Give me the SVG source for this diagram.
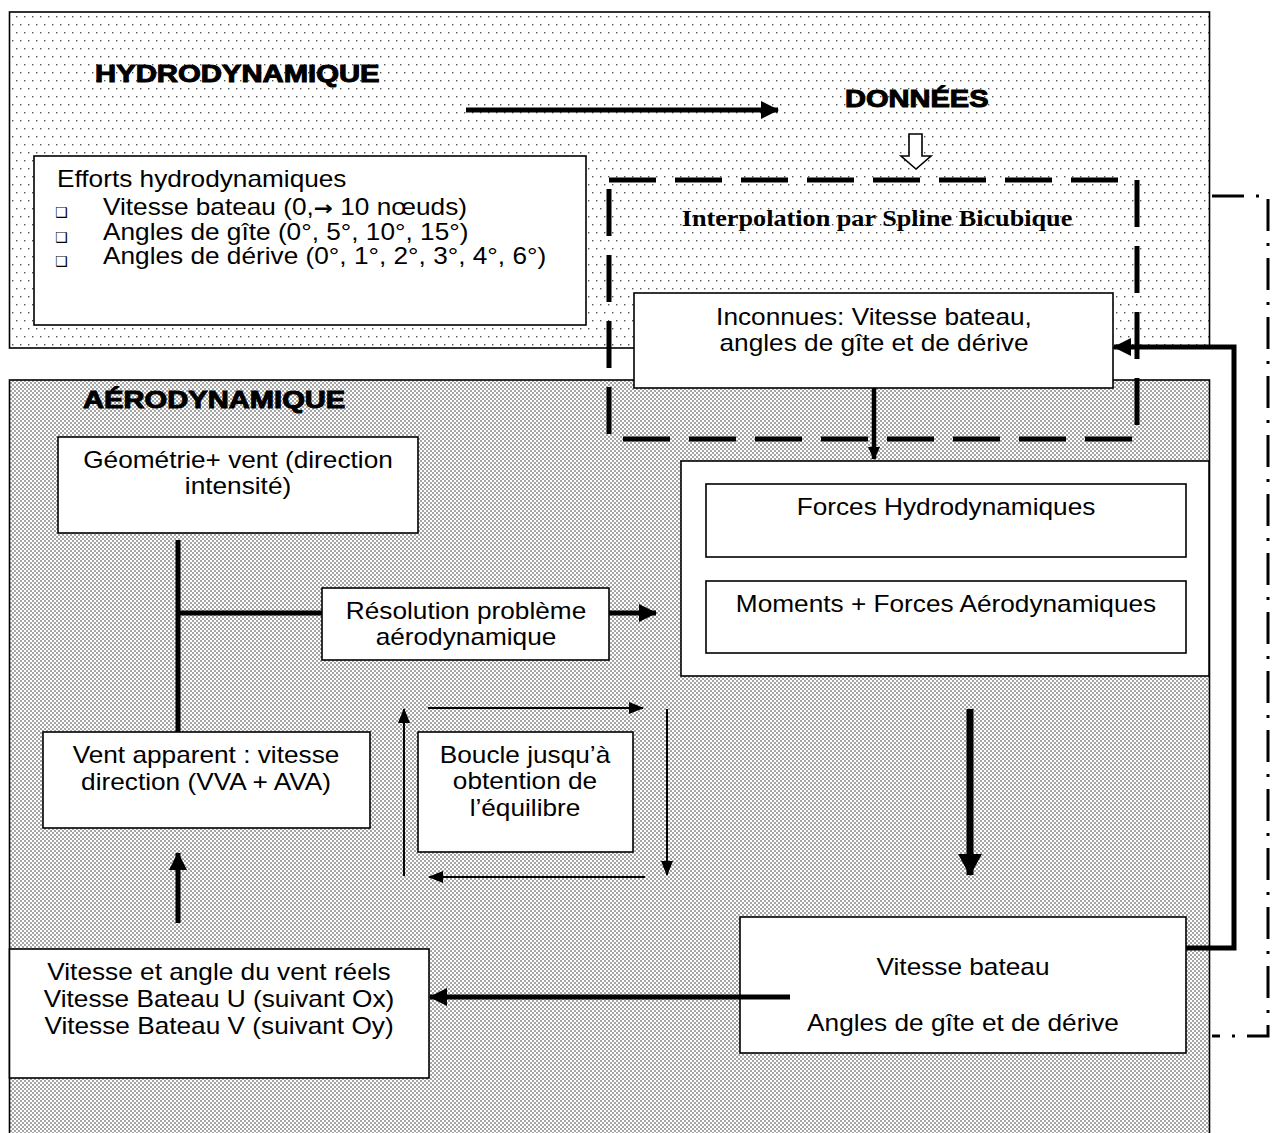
<svg xmlns="http://www.w3.org/2000/svg" width="1272" height="1133" viewBox="0 0 1272 1133">
<style>
.t{font-family:"Liberation Sans",Arial,sans-serif;font-size:23px;fill:#000}
.h{font-family:"Liberation Sans",Arial,sans-serif;font-size:24px;font-weight:bold;fill:#000;stroke:#000;stroke-width:1}
.s{font-family:"Liberation Serif","Times New Roman",serif;font-size:23px;font-weight:bold;fill:#000}
.b{font-family:"DejaVu Sans",sans-serif;font-size:14px;fill:#000}
.box{fill:#fff;stroke:#000;stroke-width:1.6}
.frame{stroke:#000;stroke-width:1.6}
.thick{fill:none;stroke:#000;stroke-width:5}
.thin{fill:none;stroke:#000;stroke-width:2}
</style>
<defs>
<pattern id="pLight" width="8" height="16" patternUnits="userSpaceOnUse">
<rect width="8" height="16" fill="#fff"/>
<rect x="0" y="0" width="1.4" height="1.4" fill="#555"/>
<rect x="4" y="8" width="1.4" height="1.4" fill="#555"/>
</pattern>
<pattern id="pDense" width="4" height="4" patternUnits="userSpaceOnUse">
<rect width="4" height="4" fill="#fff"/>
<circle cx="1" cy="1" r="0.8" fill="#333"/>
<circle cx="3" cy="3" r="0.8" fill="#333"/>
</pattern>
<marker id="mThick" viewBox="0 0 18 18" refX="17" refY="9" markerWidth="18" markerHeight="18" markerUnits="userSpaceOnUse" orient="auto">
<path d="M0,0 L18,9 L0,18 z" fill="#000"/>
</marker>
<marker id="mBig" viewBox="0 0 22 24" refX="21" refY="12" markerWidth="22" markerHeight="24" markerUnits="userSpaceOnUse" orient="auto">
<path d="M0,0 L22,12 L0,24 z" fill="#000"/>
</marker>
<marker id="mThin" viewBox="0 0 15 12" refX="14" refY="6" markerWidth="15" markerHeight="12" markerUnits="userSpaceOnUse" orient="auto">
<path d="M0,0 L15,6 L0,12 z" fill="#000"/>
</marker>
<marker id="mSmall" viewBox="0 0 13 12" refX="12" refY="6" markerWidth="13" markerHeight="12" markerUnits="userSpaceOnUse" orient="auto">
<path d="M0,0 L13,6 L0,12 z" fill="#000"/>
</marker>
</defs>

<g id="frame-hydro">
<rect class="frame" x="9.5" y="12" width="1200" height="336" fill="url(#pLight)"/>
<text class="h" transform="translate(95 82) scale(1.22 1)">HYDRODYNAMIQUE</text>
</g>
<g id="frame-aero">
<rect class="frame" x="9.5" y="380" width="1200" height="770" fill="url(#pDense)"/>
<text class="h" transform="translate(83 408) scale(1.215 1)">AÉRODYNAMIQUE</text>
</g>

<g id="donnees">
<text class="h" transform="translate(845 107) scale(1.21 1)">DONNÉES</text>
</g>

<g id="interpolation">
<path d="M609,180 H1137 V439 H609 Z" fill="none" stroke="#000" stroke-width="5" stroke-dasharray="47 19"/>
<text class="s" text-anchor="middle" transform="translate(877 226) scale(1.14 1)">Interpolation par Spline Bicubique</text>
</g>

<g id="efforts">
<rect class="box" x="34" y="156" width="552" height="169"/>
<text class="t" transform="translate(57 187) scale(1.14 1)">Efforts hydrodynamiques</text>
<text class="b" x="55" y="217">❑</text>
<text class="b" x="55" y="242">❑</text>
<text class="b" x="55" y="266">❑</text>
<text class="t" transform="translate(103 215) scale(1.14 1)">Vitesse bateau (0,<tspan style="font-family:'DejaVu Sans',sans-serif;font-weight:bold;font-size:20px">→</tspan> 10 nœuds)</text>
<text class="t" transform="translate(103 240) scale(1.14 1)">Angles de gîte (0°, 5°, 10°, 15°)</text>
<text class="t" transform="translate(103 264) scale(1.14 1)">Angles de dérive  (0°, 1°, 2°, 3°, 4°, 6°)</text>
</g>

<g id="inconnues">
<rect class="box" x="634" y="293" width="479" height="95"/>
<text class="t" text-anchor="middle" transform="translate(874 325) scale(1.14 1)"><tspan x="0">Inconnues: Vitesse bateau,</tspan><tspan x="0" dy="26">angles de gîte et de dérive</tspan></text>
</g>

<g id="forces">
<rect class="box" x="681" y="461" width="528" height="215"/>
<rect class="box" x="706" y="484" width="480" height="73"/>
<text class="t" text-anchor="middle" transform="translate(946 515) scale(1.14 1)">Forces Hydrodynamiques</text>
<rect class="box" x="706" y="581" width="480" height="72"/>
<text class="t" text-anchor="middle" transform="translate(946 612) scale(1.14 1)">Moments + Forces Aérodynamiques</text>
</g>

<g id="geometrie">
<rect class="box" x="58" y="437" width="360" height="96"/>
<text class="t" text-anchor="middle" transform="translate(238 468) scale(1.14 1)"><tspan x="0">Géométrie+ vent (direction</tspan><tspan x="0" dy="26">intensité)</tspan></text>
</g>

<g id="resolution">
<rect class="box" x="322" y="588" width="287" height="72"/>
<text class="t" text-anchor="middle" transform="translate(466 619) scale(1.14 1)"><tspan x="0">Résolution problème</tspan><tspan x="0" dy="26">aérodynamique</tspan></text>
</g>

<g id="vent-apparent">
<rect class="box" x="43" y="732" width="327" height="96"/>
<text class="t" text-anchor="middle" transform="translate(206 763) scale(1.14 1)"><tspan x="0">Vent apparent : vitesse</tspan><tspan x="0" dy="27">direction (VVA + AVA)</tspan></text>
</g>

<g id="boucle">
<rect class="box" x="418" y="732" width="215" height="120"/>
<text class="t" text-anchor="middle" transform="translate(525 763) scale(1.14 1)"><tspan x="0">Boucle jusqu’à</tspan><tspan x="0" dy="26.5">obtention de</tspan><tspan x="0" dy="26.5">l’équilibre</tspan></text>
</g>

<g id="vent-reel">
<rect class="box" x="9.5" y="949" width="419.5" height="129"/>
<text class="t" text-anchor="middle" transform="translate(219 980) scale(1.14 1)"><tspan x="0">Vitesse et angle du vent réels</tspan><tspan x="0" dy="27">Vitesse Bateau U (suivant Ox)</tspan><tspan x="0" dy="27">Vitesse Bateau V (suivant Oy)</tspan></text>
</g>

<g id="vitesse-bateau">
<rect class="box" x="740" y="917" width="446" height="136"/>
<text class="t" text-anchor="middle" transform="translate(963 975) scale(1.14 1)"><tspan x="0">Vitesse bateau</tspan><tspan x="0" dy="56">Angles de gîte et de dérive</tspan></text>
</g>

<g id="connectors">
<line class="thick" x1="466" y1="110" x2="778" y2="110" marker-end="url(#mThick)"/>
<path d="M909,134 H922 V156 H931 L916,169 L901,156 H909 Z" fill="#fff" stroke="#000" stroke-width="1.6" stroke-linejoin="miter"/>
<line x1="874" y1="388" x2="874" y2="459" stroke="#000" stroke-width="4.5" marker-end="url(#mSmall)"/>
<line class="thick" x1="178" y1="540" x2="178" y2="732"/>
<line class="thick" x1="178" y1="613" x2="322" y2="613"/>
<line class="thick" x1="609" y1="613" x2="656" y2="613" marker-end="url(#mThick)"/>
<line class="thick" x1="178" y1="923" x2="178" y2="853" marker-end="url(#mThick)"/>
<line class="thin" x1="404" y1="876" x2="404" y2="709" marker-end="url(#mThin)"/>
<line class="thin" x1="428" y1="708" x2="643" y2="708" marker-end="url(#mThin)"/>
<line class="thin" x1="667" y1="709" x2="667" y2="875" marker-end="url(#mThin)"/>
<line class="thin" x1="645" y1="877" x2="429" y2="877" marker-end="url(#mThin)"/>
<line x1="970" y1="709" x2="970" y2="875" stroke="#000" stroke-width="7" marker-end="url(#mBig)"/>
<line class="thick" x1="790" y1="997" x2="430" y2="997" marker-end="url(#mThick)"/>
<path class="thick" d="M1186,948 H1234 V347 H1114" stroke-linejoin="miter" marker-end="url(#mThick)"/>
<path d="M1212,196 H1268 V1036 H1212" fill="none" stroke="#000" stroke-width="3" stroke-dasharray="32 12 3 12"/>
</g>
</svg>
